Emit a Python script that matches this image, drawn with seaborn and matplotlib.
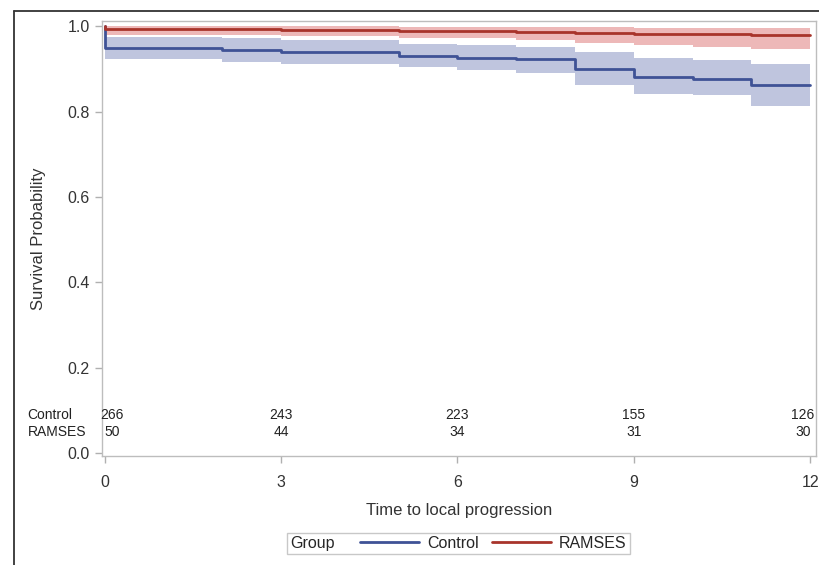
import pandas as pd
import matplotlib
matplotlib.use("Agg")
import matplotlib.pyplot as plt
import seaborn as sns
from matplotlib.lines import Line2D
from matplotlib.offsetbox import HPacker

# step times (the duplicated 0 is the immediate drop at time zero)
times = [0, 0, 2, 3, 5, 6, 7, 8, 9, 10, 11, 12]

control_surv = [1.0, 0.949, 0.943, 0.940, 0.930, 0.926, 0.922, 0.899, 0.881, 0.876, 0.862, 0.862]
control_upper = [1.0, 0.974, 0.971, 0.967, 0.959, 0.955, 0.951, 0.940, 0.926, 0.921, 0.911, 0.911]
control_lower = [1.0, 0.924, 0.916, 0.912, 0.903, 0.897, 0.890, 0.862, 0.841, 0.838, 0.813, 0.813]

ramses_surv = [1.0, 0.992, 0.992, 0.990, 0.988, 0.988, 0.987, 0.984, 0.982, 0.981, 0.980, 0.980]
ramses_upper = [1.0, 0.999, 0.999, 0.999, 0.998, 0.998, 0.998, 0.997, 0.996, 0.995, 0.995, 0.995]
ramses_lower = [1.0, 0.979, 0.979, 0.976, 0.973, 0.971, 0.968, 0.961, 0.955, 0.951, 0.947, 0.947]

groups = ["Control", "RAMSES"]
line_colors = ["#3f5296", "#a8342b"]
band_colors = ["#bfc5de", "#edb4b4"]

# numbers at risk
risk_times = [0, 3, 6, 9, 12]
control_risk = [266, 243, 223, 155, 126]
ramses_risk = [50, 44, 34, 31, 30]

df = pd.concat([
    pd.DataFrame({"time": times, "surv": control_surv, "group": "Control"}),
    pd.DataFrame({"time": times, "surv": ramses_surv, "group": "RAMSES"}),
])

sns.set_theme(style="white")
plt.rcParams["font.family"] = ["Liberation Sans", "DejaVu Sans"]

fig = plt.figure(figsize=(8.2, 5.65), dpi=100)
ax = fig.add_axes([0.1244, 0.1929, 0.8707, 0.7699])

# confidence bands
ax.fill_between(times, control_lower, control_upper, step="post",
                color=band_colors[0], lw=0)
ax.fill_between(times, ramses_lower, ramses_upper, step="post",
                color=band_colors[1], lw=0, alpha=0.95)

sns.lineplot(data=df, x="time", y="surv", hue="group", palette=line_colors,
             estimator=None, sort=False, drawstyle="steps-post",
             linewidth=2.0, legend=False, ax=ax)

ax.set_xlim(-0.046, 12.1)
ax.set_ylim(-0.006, 1.0117)
ax.set_xticks([0, 3, 6, 9, 12])
ax.set_yticks([0.0, 0.2, 0.4, 0.6, 0.8, 1.0])
ax.set_yticklabels([f"{v:.1f}" for v in ax.get_yticks()])
ax.tick_params(axis="both", bottom=True, left=True, colors="#b0b0b0",
               labelcolor="#333333", labelsize=11.5, length=5, width=1,
               direction="out")
ax.tick_params(axis="x", pad=9)
ax.tick_params(axis="y", pad=4)
for s in ax.spines.values():
    s.set_color("#bdbdbd")
    s.set_linewidth(1)

ax.set_xlabel("Time to local progression", fontsize=12, color="#333333", labelpad=9)
ax.set_ylabel("Survival Probability", fontsize=12, color="#333333", labelpad=15)

# at-risk table inside the plot area
for row_y, label, counts in [(0.089, "Control", control_risk), (0.050, "RAMSES", ramses_risk)]:
    ax.text(-1.31, row_y, label, fontsize=10, color="#222222", ha="left", va="center")
    for i, (t, n) in enumerate(zip(risk_times, counts)):
        xpos = t
        if i == 0:
            xpos = t + 0.12
        elif i == len(risk_times) - 1:
            xpos = t - 0.12
        ax.text(xpos, row_y, str(n), fontsize=10, color="#222222", ha="center", va="center")

# legend laid out on one row: "Group  —— Control  —— RAMSES"
handles = [Line2D([], [], color=c, lw=2) for c in line_colors]
leg = fig.legend(handles, groups, title="Group", ncol=2, loc="center",
                 bbox_to_anchor=(0.559, 0.038), frameon=True, fancybox=False,
                 edgecolor="#c8c8c8", framealpha=1, fontsize=11.5, title_fontsize=11.5,
                 handlelength=3.7, handletextpad=0.5, columnspacing=0.8,
                 borderpad=0.2)
leg.get_frame().set_linewidth(1)
fs = leg._fontsize
row = HPacker(pad=leg.borderpad * fs, sep=1.6 * fs, align="center",
              children=[leg._legend_title_box, leg._legend_handle_box])
row.set_figure(fig)
row.axes = leg.axes
row.set_offset(leg._findoffset)
leg._legend_box = row

# outer border of the original graphic
fig.add_artist(Line2D([14 / 820, 14 / 820], [0, 1 - 11 / 565], color="#333333", lw=1.3))
fig.add_artist(Line2D([14 / 820, 1], [1 - 11 / 565, 1 - 11 / 565], color="#333333", lw=1.3))

fig.savefig("out.png", dpi=100)
